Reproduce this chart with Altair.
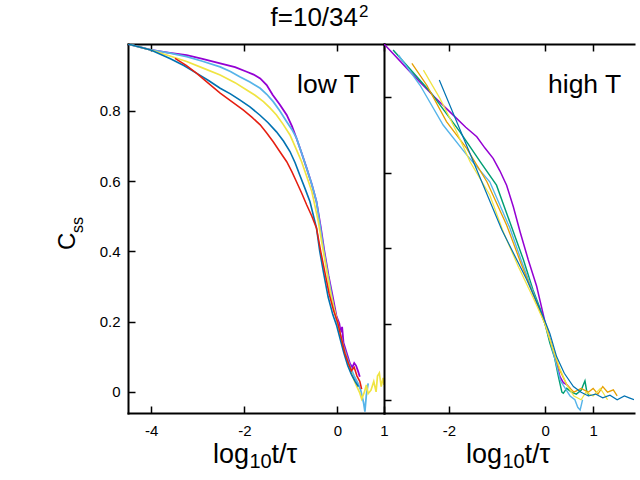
import altair as alt
import pandas as pd

FONT = "Liberation Sans"

# gnuplot default line colours
PURPLE = "#9400d3"
GREEN = "#009e73"
SKY = "#56b4e9"
ORANGE = "#e69f00"
YELLOW = "#f0e442"
BLUE = "#0072b2"
RED = "#e51e10"

# ---------------- low T: C_ss against log10(t/tau) ----------------
low_purple_x = [-4.50, -4.01, -3.60, -3.24, -2.90, -2.52, -2.20, -1.95, -1.80, -1.66, -1.52,
                -1.39, -1.24, -1.09, -0.98, -0.88, -0.77, -0.66, -0.55, -0.45, -0.36, -0.28,
                -0.19, -0.10, -0.02, 0.04, 0.07, 0.10, 0.13, 0.20, 0.27, 0.32, 0.36, 0.40,
                0.44, 0.48]
low_purple_y = [0.990, 0.973, 0.965, 0.958, 0.948, 0.935, 0.924, 0.911, 0.903, 0.892, 0.873,
                0.845, 0.818, 0.788, 0.757, 0.722, 0.680, 0.636, 0.590, 0.541, 0.470, 0.400,
                0.330, 0.270, 0.215, 0.195, 0.170, 0.185, 0.140, 0.110, 0.080, 0.070, 0.082,
                0.075, 0.060, 0.043]

low_sky_x = [-4.50, -4.01, -3.60, -3.24, -2.90, -2.52, -2.30, -2.10, -1.88, -1.66, -1.52,
             -1.38, -1.24, -1.09, -0.98, -0.88, -0.77, -0.66, -0.55, -0.45, -0.37, -0.29,
             -0.20, -0.11, -0.03, 0.05, 0.13, 0.20, 0.28, 0.36, 0.44, 0.50, 0.56, 0.59,
             0.62, 0.66]
low_sky_y = [0.990, 0.973, 0.964, 0.954, 0.941, 0.925, 0.912, 0.897, 0.882, 0.864, 0.847,
             0.826, 0.800, 0.769, 0.747, 0.722, 0.680, 0.636, 0.590, 0.541, 0.470, 0.400,
             0.330, 0.265, 0.210, 0.170, 0.130, 0.100, 0.070, 0.045, 0.025, 0.005, -0.030,
             -0.056, -0.010, 0.024]

low_yellow_x = [-4.50, -4.01, -3.60, -3.24, -2.90, -2.52, -2.20, -1.95, -1.77, -1.59, -1.45,
                -1.31, -1.17, -1.02, -0.90, -0.77, -0.66, -0.55, -0.41, -0.33, -0.25, -0.16,
                -0.07, 0.00, 0.08, 0.16, 0.25, 0.33, 0.40, 0.48, 0.52, 0.58, 0.62, 0.66, 0.72,
                0.78, 0.83, 0.86, 0.90, 0.94, 0.98, 1.00]
low_yellow_y = [0.990, 0.973, 0.956, 0.940, 0.922, 0.902, 0.880, 0.859, 0.844, 0.826, 0.808,
                0.788, 0.762, 0.731, 0.695, 0.655, 0.613, 0.570, 0.484, 0.420, 0.360, 0.290,
                0.235, 0.200, 0.150, 0.110, 0.070, 0.043, 0.020, -0.003, -0.020, 0.000, 0.020,
                -0.005, 0.005, 0.030, 0.000, 0.045, 0.054, 0.015, 0.040, 0.020]

low_blue_x = [-4.50, -4.01, -3.60, -3.30, -3.03, -2.77, -2.52, -2.30, -2.10, -1.88, -1.67,
              -1.49, -1.31, -1.16, -1.02, -0.91, -0.81, -0.70, -0.59, -0.45, -0.38, -0.30,
              -0.20, -0.10, -0.02, 0.06, 0.14, 0.22, 0.30, 0.38, 0.45]
low_blue_y = [0.990, 0.973, 0.949, 0.929, 0.907, 0.886, 0.864, 0.848, 0.831, 0.811, 0.788,
              0.766, 0.740, 0.714, 0.684, 0.652, 0.617, 0.580, 0.541, 0.466, 0.400, 0.340,
              0.270, 0.220, 0.190, 0.150, 0.110, 0.075, 0.050, 0.030, 0.015]

low_red_x = [-3.49, -3.25, -3.03, -2.77, -2.52, -2.27, -2.02, -1.84, -1.66, -1.52, -1.38,
             -1.24, -1.09, -0.98, -0.88, -0.77, -0.66, -0.55, -0.45, -0.36, -0.27, -0.18,
             -0.08, 0.00, 0.08, 0.16, 0.24, 0.30, 0.36, 0.42, 0.48, 0.52]
low_red_y = [0.949, 0.929, 0.907, 0.878, 0.850, 0.826, 0.802, 0.782, 0.760, 0.737, 0.712,
             0.684, 0.655, 0.627, 0.598, 0.566, 0.532, 0.500, 0.466, 0.400, 0.340, 0.280,
             0.230, 0.200, 0.155, 0.110, 0.080, 0.060, 0.070, 0.045, 0.030, 0.008]

# ---------------- high T ----------------
high_purple_x = [-3.35, -2.81, -2.30, -1.91, -1.65, -1.42, -1.25, -1.08, -0.94, -0.80, -0.66,
                 -0.52, -0.35, -0.175, 0.00, 0.10, 0.20, 0.31, 0.38, 0.45, 0.52]
high_purple_y = [0.940, 0.867, 0.800, 0.752, 0.720, 0.695, 0.665, 0.638, 0.605, 0.567, 0.510,
                 0.444, 0.370, 0.300, 0.205, 0.160, 0.115, 0.061, 0.045, 0.040, 0.030]

high_green_x = [-3.16, -2.39, -1.77, -1.35, -1.01, -0.66, -0.45, -0.25, -0.10, 0.00, 0.10,
                0.20, 0.28, 0.35, 0.38, 0.45, 0.55, 0.65, 0.75, 0.83, 0.87, 0.92]
high_green_y = [0.924, 0.814, 0.708, 0.629, 0.567, 0.444, 0.370, 0.290, 0.240, 0.200, 0.150,
                0.110, 0.060, 0.020, 0.017, 0.030, 0.020, 0.015, 0.025, 0.050, 0.020, 0.010]

high_sky_x = [-3.05, -2.60, -2.12, -1.63, -1.15, -0.73, -0.50, -0.25, 0.00, 0.12, 0.22,
              0.32, 0.42, 0.52, 0.62, 0.68, 0.73, 0.78]
high_sky_y = [0.911, 0.831, 0.726, 0.647, 0.576, 0.453, 0.370, 0.285, 0.200, 0.150, 0.100,
              0.050, 0.030, 0.010, 0.000, -0.020, -0.027, 0.000]

high_orange_x = [-2.77, -2.46, -2.05, -1.63, -1.21, -0.80, -0.50, -0.25, 0.00, 0.15, 0.30,
                 0.45, 0.60, 0.75, 0.90, 1.00, 1.10, 1.20, 1.30, 1.42, 1.50]
high_orange_y = [0.889, 0.831, 0.735, 0.664, 0.576, 0.462, 0.360, 0.280, 0.200, 0.140, 0.080,
                 0.040, 0.020, 0.030, 0.020, 0.030, 0.015, 0.035, 0.020, 0.026, 0.010]

high_yellow_x = [-2.53, -2.19, -1.84, -1.56, -1.15, -0.87, -0.55, -0.25, 0.00, 0.15, 0.30,
                 0.45, 0.60, 0.75, 0.85, 1.00, 1.15, 1.30]
high_yellow_y = [0.871, 0.797, 0.708, 0.629, 0.541, 0.444, 0.350, 0.270, 0.200, 0.140, 0.085,
                 0.040, 0.010, 0.000, 0.020, 0.010, 0.030, 0.000]

high_blue_x = [-2.20, -0.90, -0.38, -0.04, 0.10, 0.24, 0.40, 0.59, 0.75, 0.90, 1.05, 1.20,
               1.35, 1.50, 1.65, 1.75, 1.85]
high_blue_y = [0.845, 0.449, 0.317, 0.220, 0.175, 0.114, 0.070, 0.035, 0.020, 0.010, 0.015,
               0.005, 0.012, 0.000, 0.010, 0.005, 0.000]

# axis ticks and ranges
low_xticks = [-4, -2, 0, 1]
high_xticks = [-2, 0, 1]
yticks = [0, 0.2, 0.4, 0.6, 0.8]
low_xdomain = [-4.5, 1.0]
low_ydomain = [-0.06, 0.99]
high_xdomain = [-3.35, 1.85]
high_ydomain = [-0.035, 0.94]

# texts
title_main = "f=10/34"
title_sup = "2"
xtitle_parts = ["log", "10", "t/τ"]
ytitle_parts = ["C", "ss"]
panel_labels = ["low T", "high T"]

W_LOW, W_HIGH, H = 256, 250, 369

low_curves = [
    ("low purple", low_purple_x, low_purple_y, PURPLE, 1.8),
    ("low sky", low_sky_x, low_sky_y, SKY, 1.2),
    ("low yellow", low_yellow_x, low_yellow_y, YELLOW, 1.2),
    ("low blue", low_blue_x, low_blue_y, BLUE, 1.2),
    ("low red", low_red_x, low_red_y, RED, 1.5),
]
high_curves = [
    ("high purple", high_purple_x, high_purple_y, PURPLE, 1.5),
    ("high green", high_green_x, high_green_y, GREEN, 1.2),
    ("high sky", high_sky_x, high_sky_y, SKY, 1.2),
    ("high orange", high_orange_x, high_orange_y, ORANGE, 1.2),
    ("high yellow", high_yellow_x, high_yellow_y, YELLOW, 1.2),
    ("high blue", high_blue_x, high_blue_y, BLUE, 1.3),
]
all_curves = low_curves + high_curves
series_names = [c[0] for c in all_curves]
color_scale = alt.Scale(domain=series_names, range=[c[3] for c in all_curves])
width_scale = alt.Scale(domain=series_names, range=[c[4] for c in all_curves])


def curves_frame(curves):
    parts = []
    for name, xs, ys, _, _ in curves:
        parts.append(pd.DataFrame({"x": xs, "y": ys, "series": name, "i": range(len(xs))}))
    return pd.concat(parts, ignore_index=True)


def text_layer(text, x, y, size, align="left", angle=0):
    return alt.Chart(pd.DataFrame({"t": [text]})).mark_text(
        font=FONT, fontSize=size, align=align, baseline="alphabetic", angle=angle, color="black"
    ).encode(x=alt.value(x), y=alt.value(y), text="t:N")


def xtitle_layers(cx):
    x0 = cx - 43
    return [
        text_layer(xtitle_parts[0], x0 + 36, 419, 27, align="right"),
        text_layer(xtitle_parts[1], x0 + 36.5, 424, 20),
        text_layer(xtitle_parts[2], x0 + 58.5, 419, 27),
    ]


def panel(curves, xdom, ydom, xticks, width, ylabels, label, label_x, extra):
    df = curves_frame(curves)
    xsc = alt.Scale(domain=xdom, nice=False, zero=False)
    ysc = alt.Scale(domain=ydom, nice=False, zero=False)
    lab = "'' + datum.value"
    tick_style = dict(tickSize=7, tickWidth=1.5, tickColor="black", grid=False, title=None)
    frame_style = dict(domain=True, domainWidth=2, domainColor="black", domainCap="square",
                       ticks=False, labels=False, grid=False, title=None)

    base = alt.Chart(df)
    lines = base.mark_line(clip=True).encode(
        x=alt.X("x:Q", scale=xsc, axis=alt.Axis(
            orient="bottom", offset=-7, values=xticks, domain=False, labelExpr=lab,
            labelFontSize=15, labelPadding=10, labelFlush=False, labelOverlap=False, **tick_style)),
        y=alt.Y("y:Q", scale=ysc, axis=alt.Axis(
            orient="left", offset=-7, values=yticks, domain=False, labels=ylabels, labelExpr=lab,
            labelFontSize=15, labelPadding=8, labelOverlap=False, **tick_style)),
        color=alt.Color("series:N", scale=color_scale, legend=None),
        strokeWidth=alt.StrokeWidth("series:N", scale=width_scale, legend=None),
        order="i:Q",
    )
    top_ticks = base.mark_line(opacity=0).encode(
        x=alt.X("x:Q", scale=xsc, axis=alt.Axis(orient="top", offset=-7, values=xticks,
                                               domain=False, labels=False, **tick_style)),
        y=alt.Y("y:Q", scale=ysc, axis=alt.Axis(orient="left", **frame_style)),
    )
    frame_bottom = base.mark_line(opacity=0).encode(
        x=alt.X("x:Q", scale=xsc, axis=alt.Axis(orient="bottom", **frame_style)),
        y=alt.Y("y:Q", scale=ysc, axis=None),
    )
    frame_top = base.mark_line(opacity=0).encode(
        x=alt.X("x:Q", scale=xsc, axis=alt.Axis(orient="top", **frame_style)),
        y=alt.Y("y:Q", scale=ysc, axis=None),
    )
    layers = [lines, top_ticks, frame_bottom, frame_top,
              text_layer(label, label_x, 49, 26.5)] + xtitle_layers(width / 2) + extra
    return alt.layer(*layers).resolve_axis(x="independent", y="independent").properties(
        width=width, height=H)


left_extra = [
    text_layer(ytitle_parts[0], -53, 206, 24, angle=270),
    text_layer(ytitle_parts[1], -45, 189, 16, angle=270),
    text_layer(title_main, 230, -18, 26, align="right"),
    text_layer(title_sup, 231, -27, 17),
]

left = panel(low_curves, low_xdomain, low_ydomain, low_xticks, W_LOW, True,
             panel_labels[0], 169, left_extra)
right = panel(high_curves, high_xdomain, high_ydomain, high_xticks, W_HIGH, False,
              panel_labels[1], 164, [])

chart = alt.hconcat(left, right, spacing=0, bounds="flush").properties(
    padding={"left": 56, "top": 3, "right": 5, "bottom": 5},
    background="white",
).configure_view(stroke=None).configure_axis(labelFont=FONT, labelColor="black")

chart.save("out.html", embed_options={"renderer": "svg", "actions": False})
